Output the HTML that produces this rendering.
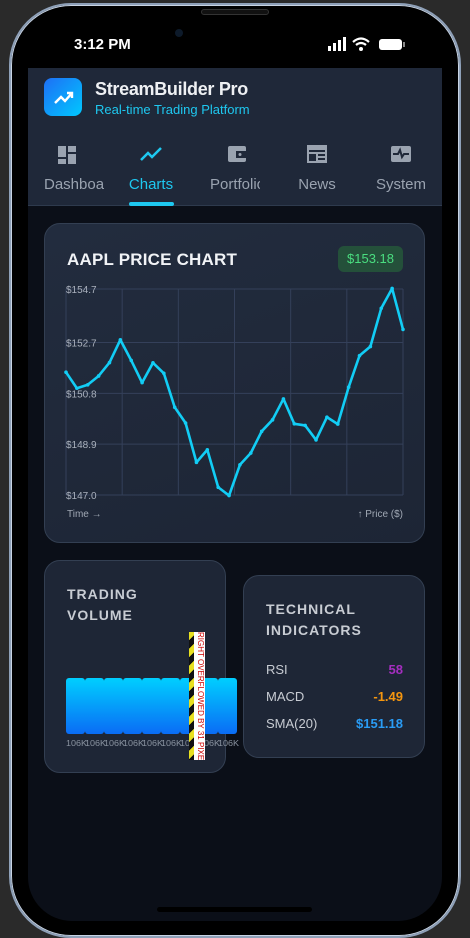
<!DOCTYPE html>
<html><head><meta charset="utf-8"><style>
*{box-sizing:border-box;margin:0;padding:0}
body{width:470px;height:933px;background:#2a2a2a;overflow:hidden;font-family:"Liberation Sans",sans-serif;position:relative}
.abs{position:absolute}
#phone{left:9px;top:3px;width:452px;height:935px;border-radius:62px;background:#000;border:2px solid #8ea0b8;box-shadow:inset 0 0 0 1px #c8d4e4}
#screen{left:28px;top:68px;width:414px;height:853px;background:#0b0f18;border-radius:0 0 44px 44px;overflow:hidden}
#hdr{left:0;top:0;width:414px;height:138px;background:#1f2839;border-bottom:1px solid #2e3a4d}
.card{background:#1e2636;border:1px solid #333f52;border-radius:16px}
.t{color:#e6e9ee}
.tab{top:72px;width:82px;text-align:center;font-size:15px;color:#9aa3b0}
.tab .ic{height:26px;margin-bottom:4px}
</style></head><body>
<div id="phone" class="abs"></div>
<div class="abs" style="left:201px;top:9px;width:68px;height:6px;border-radius:3px;background:#111;border:1px solid #333"></div>
<div class="abs" style="left:175px;top:29px;width:8px;height:8px;border-radius:4px;background:#0d1a2a"></div>
<div class="abs t" style="left:74px;top:36px;font-size:15px;font-weight:bold;color:#fff">3:12 PM</div>
<svg class="abs" style="left:328px;top:36px" width="78" height="18">
<rect x="0" y="10" width="3" height="5" fill="#fff"/><rect x="5" y="7" width="3" height="8" fill="#fff"/><rect x="10" y="4" width="3" height="11" fill="#fff"/><rect x="15" y="1" width="3" height="14" fill="#fff"/>
<path d="M25 6 Q33 -1 41 6 M28 9 Q33 5 38 9" stroke="#fff" stroke-width="2.2" fill="none"/><circle cx="33" cy="13" r="2" fill="#fff"/>
<rect x="51" y="3" width="23" height="11" rx="3" fill="#fff"/><rect x="75" y="6" width="2" height="5" fill="#888"/></svg>
<div id="screen" class="abs">
 <div id="hdr" class="abs">
  <div class="abs" style="left:16px;top:10px;width:38px;height:38px;border-radius:8px;background:linear-gradient(135deg,#1e6ff5,#00c8ff)">
   <svg width="38" height="38"><path d="M11 25 L17 19 L21 23 L28 15 M23 15 H28 V20" stroke="#fff" stroke-width="2.4" fill="none"/></svg></div>
  <div class="abs t" style="left:67px;top:11px;font-size:18px;font-weight:bold;color:#eef0f3;letter-spacing:-0.3px">StreamBuilder Pro</div>
  <div class="abs" style="left:67px;top:34px;font-size:13px;color:#1ec8f0">Real-time Trading Platform</div>
  <div class="abs tab" style="left:0px;top:74px;width:78px;overflow:hidden"><svg class="ic" width="24" height="24" viewBox="0 0 24 24"><rect x="3" y="3" width="8" height="11" fill="#9aa3b0"/><rect x="13" y="3" width="8" height="6" fill="#9aa3b0"/><rect x="3" y="16" width="8" height="5" fill="#9aa3b0"/><rect x="13" y="11" width="8" height="10" fill="#9aa3b0"/></svg><div style="width:60px;overflow:hidden;white-space:nowrap;margin-left:16px">Dashboard</div></div>
  <div class="abs tab" style="left:82px;top:74px;color:#1ec8f0"><svg class="ic" width="24" height="24"><path d="M2 18 L9 11 L13 15 L22 6" stroke="#1ec8f0" stroke-width="2.5" fill="none"/></svg><div>Charts</div></div>
  <div class="abs" style="left:101px;top:134px;width:45px;height:4px;border-radius:2px;background:#1ec8f0"></div>
  <div class="abs tab" style="left:168px;top:74px"><svg class="ic" width="24" height="24"><rect x="3" y="4" width="18" height="16" rx="2" fill="#9aa3b0"/><rect x="11" y="9" width="10" height="7" fill="#1f2839"/><circle cx="15" cy="12.5" r="1.5" fill="#9aa3b0"/></svg><div style="width:50px;overflow:hidden;white-space:nowrap;margin-left:14px">Portfolio</div></div>
  <div class="abs tab" style="left:248px;top:74px"><svg class="ic" width="24" height="24"><rect x="2" y="3" width="20" height="18" fill="#9aa3b0"/><rect x="4" y="8" width="16" height="2" fill="#1f2839"/><rect x="4" y="12" width="7" height="7" fill="#1f2839"/><rect x="13" y="12" width="7" height="2" fill="#1f2839"/><rect x="13" y="16" width="7" height="2" fill="#1f2839"/></svg><div>News</div></div>
  <div class="abs tab" style="left:332px;top:74px"><svg class="ic" width="24" height="24"><rect x="2" y="4" width="20" height="16" rx="2" fill="#9aa3b0"/><path d="M4 12 H9 L11 8 L13 15 L15 12 H20" stroke="#1f2839" stroke-width="2" fill="none"/></svg><div style="width:50px;overflow:hidden;white-space:nowrap;margin-left:16px">System</div></div>
 </div>
</div>
<div class="abs card" style="left:44px;top:223px;width:381px;height:320px;background:linear-gradient(160deg,#222c3e,#1d2535)"></div>
<div class="abs" style="left:67px;top:250px;font-size:17px;font-weight:bold;color:#f1f3f6;letter-spacing:0.2px">AAPL PRICE CHART</div>
<div class="abs" style="left:338px;top:246px;width:65px;height:26px;border-radius:6px;background:#24503a;color:#4ade80;font-size:13px;text-align:center;line-height:26px">$153.18</div>
<svg id="chart" class="abs" style="left:0;top:0" width="470" height="560"></svg>
<div class="abs card" style="left:44px;top:560px;width:182px;height:213px"></div>
<div class="abs" style="left:67px;top:584px;font-size:14px;font-weight:bold;color:#c8ccd3;line-height:21px;letter-spacing:1px">TRADING<br>VOLUME</div>
<svg id="vol" class="abs" style="left:0;top:0" width="470" height="760"></svg>
<div class="abs" style="left:189px;top:632px;width:16px;height:128px;background:repeating-linear-gradient(135deg,#e8e020 0 6px,#111 6px 12px)"></div>
<div class="abs" style="left:194px;top:632px;width:11px;height:128px;background:#fff;color:#c00;font-size:8px;writing-mode:vertical-rl;white-space:nowrap;overflow:hidden">RIGHT OVERFLOWED BY 31 PIXELS</div>
<div class="abs card" style="left:243px;top:575px;width:182px;height:183px"></div>
<div class="abs" style="left:266px;top:599px;font-size:14px;font-weight:bold;color:#c8ccd3;line-height:21px;letter-spacing:1px">TECHNICAL<br>INDICATORS</div>
<div class="abs" style="left:266px;top:662px;font-size:13px;color:#c8ccd3">RSI</div>
<div class="abs" style="left:340px;width:63px;text-align:right;top:662px;font-size:13px;font-weight:bold;color:#a52ec0">58</div>
<div class="abs" style="left:266px;top:689px;font-size:13px;color:#c8ccd3">MACD</div>
<div class="abs" style="left:340px;width:63px;text-align:right;top:689px;font-size:13px;font-weight:bold;color:#f5960f">-1.49</div>
<div class="abs" style="left:266px;top:716px;font-size:13px;color:#c8ccd3">SMA(20)</div>
<div class="abs" style="left:320px;width:83px;text-align:right;top:716px;font-size:13px;font-weight:bold;color:#2a9cf5">$151.18</div>
<div class="abs" style="left:157px;top:907px;width:155px;height:5px;border-radius:3px;background:#000"></div>
<script>
const prices=[151.59,150.99,151.12,151.45,151.95,152.80,152.03,151.20,151.94,151.55,150.28,149.69,148.22,148.69,147.29,146.98,148.13,148.57,149.38,149.81,150.59,149.66,149.60,149.06,149.91,149.65,151.03,152.21,152.55,153.98,154.72,153.19];
const yTicks=[147.0,148.9,150.8,152.7,154.7];
const yTickLabels=["$147.0","$148.9","$150.8","$152.7","$154.7"];
const volumes=[106,106,106,106,106,106,106,106,106];
const volLabels=["106K","106K","106K","106K","106K","106K","106K","106K","106K"];
const NS="http://www.w3.org/2000/svg";
function mk(p,t,a){const e=document.createElementNS(NS,t);for(const k in a)e.setAttribute(k,a[k]);p.appendChild(e);return e;}
const svg=document.getElementById('chart');
const X0=66,X1=403,Y0=495,Y1=289,yMin=147.0,yMax=154.7;
const xs=i=>X0+(X1-X0)*i/(prices.length-1);
const ys=v=>Y0-(v-yMin)/(yMax-yMin)*(Y0-Y1);
for(let i=0;i<=6;i++){const x=X0+(X1-X0)*i/6;const l=mk(svg,'line',{x1:x,x2:x,y1:Y1,y2:Y0,stroke:'#34405a','stroke-width':1});

}
yTicks.forEach((v,i)=>{const l=mk(svg,'line',{x1:X0,x2:X1,y1:ys(v),y2:ys(v),stroke:'#34405a','stroke-width':1});


const t=mk(svg,'text',{x:X0,y:ys(v)+4,fill:'#aab1bd','font-size':10,'font-family':'Liberation Sans'});t.textContent=yTickLabels[i];

});
const pl=mk(svg,'polyline',{points:prices.map((v,i)=>xs(i)+','+ys(v)).join(' '),fill:'none',stroke:'#12cdf5','stroke-width':2.6,'stroke-linejoin':'round'});


prices.forEach((v,i)=>{const c=mk(svg,'circle',{cx:xs(i),cy:ys(v),r:1.8,fill:'#12cdf5'});

});
let t=mk(svg,'text',{x:67,y:517,fill:'#a0a8b4','font-size':10,'font-family':'Liberation Sans'});t.textContent='Time →';


t=mk(svg,'text',{x:403,y:517,fill:'#a0a8b4','font-size':10,'text-anchor':'end','font-family':'Liberation Sans'});t.textContent='↑ Price ($)';


const vs=document.getElementById('vol');
const defs=mk(vs,'defs',{});const g=mk(defs,'linearGradient',{id:'vg',x1:0,y1:0,x2:0,y2:1});
mk(g,'stop',{offset:0,'stop-color':'#00cfff'});mk(g,'stop',{offset:1,'stop-color':'#0a6cf5'});
const vBase=734,vH=56,vMax=106,bw=19;
volumes.forEach((v,i)=>{const h=v/vMax*vH;const x=66+i*bw;
const r=mk(vs,'rect',{x:x,y:vBase-h,width:bw,height:h,rx:3,fill:'url(#vg)'});


const tl=mk(vs,'text',{x:x+bw/2+1,y:746,fill:'#8a93a0','font-size':8,'text-anchor':'middle','font-family':'Liberation Sans',textLength:21,lengthAdjust:'spacingAndGlyphs'});tl.textContent=volLabels[i];

});
</script>
</body></html>
